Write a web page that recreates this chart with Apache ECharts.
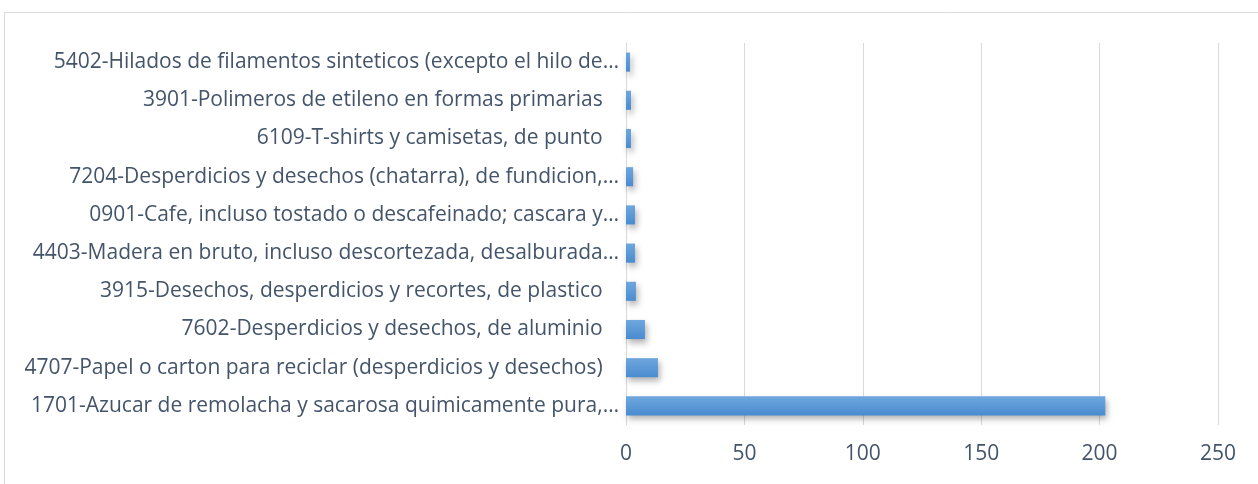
<!DOCTYPE html>
<html>
<head>
<meta charset="utf-8">
<script src="https://cdn.jsdelivr.net/npm/echarts@6/dist/echarts.min.js"></script>
<style>html,body{margin:0;padding:0;background:#fff;}#c{width:1258px;height:484px;}</style>
</head>
<body>
<div id="c"></div>
<script>
var categories = [
  "1701-Azucar de remolacha y sacarosa quimicamente pura,…",
  "4707-Papel o carton para reciclar (desperdicios y desechos)   ",
  "7602-Desperdicios y desechos, de aluminio   ",
  "3915-Desechos, desperdicios y recortes, de plastico   ",
  "4403-Madera en bruto, incluso descortezada, desalburada…",
  "0901-Cafe, incluso tostado o descafeinado; cascara y…",
  "7204-Desperdicios y desechos (chatarra), de fundicion,…",
  "6109-T-shirts y camisetas, de punto   ",
  "3901-Polimeros de etileno en formas primarias   ",
  "5402-Hilados de filamentos sinteticos (excepto el hilo de…"
];
var values = [202.4, 13.5, 8, 4.2, 3.8, 3.8, 3, 2.1, 2.1, 1.7];
var xTicks = [0, 50, 100, 150, 200, 250];

var chart = echarts.init(document.getElementById('c'), null, {renderer: 'canvas'});
var fontFamily = "'Open Sans', sans-serif";
var textColor = '#44546A';
chart.setOption({
  animation: false,
  graphic: [{
    type: 'rect', shape: {x: 4.5, y: 12.5, width: 1260, height: 480},
    style: {fill: 'none', stroke: '#d9d9d9', lineWidth: 1}, z: -1
  }],
  grid: {left: 626, right: 40, top: 43, bottom: 59, containLabel: false},
  xAxis: {
    type: 'value', min: xTicks[0], max: xTicks[xTicks.length - 1], interval: 50,
    axisLine: {show: false}, axisTick: {show: false},
    splitLine: {lineStyle: {color: '#d9d9d9', width: 1}},
    axisLabel: {color: textColor, fontSize: 21, fontFamily: fontFamily, margin: 19}
  },
  yAxis: {
    type: 'category', data: categories,
    axisLine: {show: true, lineStyle: {color: '#d9d9d9', width: 1}},
    axisTick: {show: false},
    axisLabel: {color: textColor, fontSize: 21, fontFamily: fontFamily, margin: 7}
  },
  series: [{
    type: 'bar', data: values, barWidth: '50%',
    itemStyle: {
      color: new echarts.graphic.LinearGradient(0, 0, 0, 1, [
        {offset: 0, color: '#6ea7de'},
        {offset: 1, color: '#4a8bcf'}
      ]),
      shadowColor: 'rgba(0,0,0,0.3)', shadowBlur: 6, shadowOffsetX: 2, shadowOffsetY: 4
    }
  }]
});
</script>
</body>
</html>
